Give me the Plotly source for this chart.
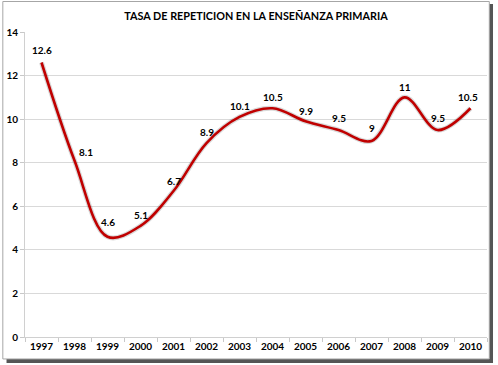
import plotly.graph_objects as go

years = ["1997", "1998", "1999", "2000", "2001", "2002", "2003",
         "2004", "2005", "2006", "2007", "2008", "2009", "2010"]
values = [12.6, 8.1, 4.6, 5.1, 6.7, 8.9, 10.1, 10.5, 9.9, 9.5, 9, 11, 9.5, 10.5]
labels = ["12.6", "8.1", "4.6", "5.1", "6.7", "8.9", "10.1",
          "10.5", "9.9", "9.5", "9", "11", "9.5", "10.5"]
label_dx = [0, 11, 0, 0, 0, 0, 0, 0, 0, 0, 0, 0, 0, -3]
label_dy = [13, 9, 15, 11, 10, 11, 11, 11, 10, 12, 13, 10, 12, 11]
title = "TASA DE REPETICION EN LA ENSEÑANZA PRIMARIA"
yticks = [0, 2, 4, 6, 8, 10, 12, 14]

FONT = "Lato, 'Open Sans', sans-serif"

fig = go.Figure()
# shadow line
fig.add_trace(go.Scatter(
    x=years, y=values, mode="lines",
    line=dict(color="rgba(0,0,0,0.15)", width=5, shape="spline", smoothing=1),
    hoverinfo="skip", showlegend=False))
fig.add_trace(go.Scatter(
    x=years, y=values, mode="lines",
    line=dict(color="#C00000", width=2.6, shape="spline", smoothing=1),
    showlegend=False))

for i, (y, t, dx, dy) in enumerate(zip(values, labels, label_dx, label_dy)):
    fig.add_annotation(x=i, y=y, text="<b>%s</b>" % t, showarrow=False,
                       xshift=dx, yshift=dy, yanchor="middle",
                       font=dict(family=FONT, size=10, color="#000000"))

# frame with shadow
fig.add_shape(type="rect", xref="paper", yref="paper",
              x0=-0.040, x1=1.013, y0=-0.085, y1=1.092,
              line=dict(color="#555555", width=0), fillcolor="#555555", layer="below")
fig.add_shape(type="rect", xref="paper", yref="paper",
              x0=-0.048, x1=1.005, y0=-0.072, y1=1.100,
              line=dict(color="#A6A6A6", width=1), fillcolor="#FFFFFF", layer="below")

fig.update_layout(
    width=498, height=365,
    margin=dict(l=25, r=11, t=32, b=28, autoexpand=False),
    paper_bgcolor="white", plot_bgcolor="rgba(0,0,0,0)",
    title=dict(text="<b>%s</b>" % title, x=0.5, xref="paper", xanchor="center",
               y=1 - 16 / 365, yanchor="middle",
               font=dict(family=FONT, size=10.8, color="#000000")),
    font=dict(family=FONT, size=10, color="#000000"),
    xaxis=dict(type="category", range=[-0.5, 13.5], showgrid=False, showline=True,
               linecolor="#D0D0D0", automargin=False,
               ticks="outside", tickson="boundaries", ticklen=4, tickcolor="#C8C8C8",
               tickfont=dict(family=FONT, size=10, color="#000000", weight="bold"),
               fixedrange=True),
    yaxis=dict(range=[0, 14], tickvals=yticks, showgrid=True, gridcolor="#D9D9D9",
               gridwidth=1, zeroline=False, showline=True, linecolor="#D0D0D0",
               automargin=False,
               ticks="outside", ticklen=4, tickcolor="#C8C8C8",
               tickfont=dict(family=FONT, size=10, color="#000000", weight="bold"),
               fixedrange=True),
)

fig.write_html("out.html", config={"displayModeBar": False},
               post_script="document.body.style.margin='0';")
